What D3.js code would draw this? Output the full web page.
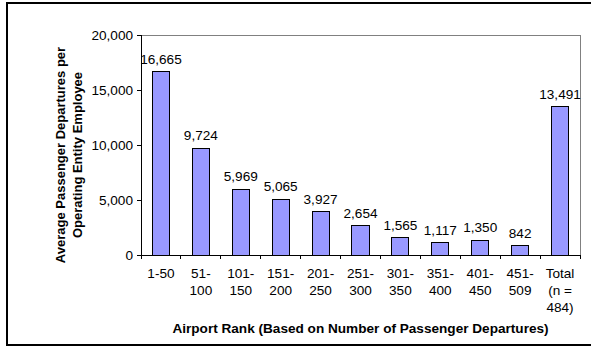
<!DOCTYPE html>
<html>
<head>
<meta charset="utf-8">
<script src="https://cdn.jsdelivr.net/npm/d3@7"></script>
<style>
  html, body { margin: 0; padding: 0; background: #fff; }
  svg { display: block; font-family: "Liberation Sans", Arial, sans-serif; }
</style>
</head>
<body>
<svg id="chart" width="591" height="349"></svg>
<script>
// Airport rank groups (multi-line labels) and average departures per employee
const categories = [
  ["1-50"], ["51-", "100"], ["101-", "150"], ["151-", "200"], ["201-", "250"],
  ["251-", "300"], ["301-", "350"], ["351-", "400"], ["401-", "450"],
  ["451-", "509"], ["Total", "(n =", "484)"]
];
const values = [16665, 9724, 5969, 5065, 3927, 2654, 1565, 1117, 1350, 842, 13491];
const yTicks = [0, 5000, 10000, 15000, 20000];
const yTitle = ["Average Passenger Departures per", "Operating Entity Employee"];
const xTitle = "Airport Rank (Based on Number of Passenger Departures)";

const FS = 13.6;
const svg = d3.select("#chart");
const plot = { left: 141, right: 580, top: 35, bottom: 255 };

// Outer frame
svg.append("rect")
  .attr("x", 7).attr("y", 3).attr("width", 620).attr("height", 342)
  .attr("fill", "#fff").attr("stroke", "#000").attr("stroke-width", 2);

const keys = categories.map((c, i) => i);
const x = d3.scaleBand().domain(keys).range([plot.left, plot.right]).paddingInner(0).paddingOuter(0);
const y = d3.scaleLinear().domain([0, 20000]).range([plot.bottom, plot.top]);

// Plot area border (top and right)
svg.append("path")
  .attr("d", `M${plot.left},${plot.top}H${plot.right}V${plot.bottom}`)
  .attr("fill", "none").attr("stroke", "#808080").attr("stroke-width", 1)
  .attr("shape-rendering", "crispEdges");

// Bars
const barW = x.bandwidth() * 0.43;
svg.append("g").selectAll("rect").data(values).join("rect")
  .attr("x", (d, i) => x(i) + (x.bandwidth() - barW) / 2)
  .attr("y", d => y(d))
  .attr("width", barW)
  .attr("height", d => y(0) - y(d))
  .attr("fill", "#9999ff").attr("stroke", "#000").attr("stroke-width", 1)
  .attr("shape-rendering", "crispEdges");

// Value labels
const fmt = d3.format(",");
svg.append("g").selectAll("text").data(values).join("text")
  .attr("x", (d, i) => x(i) + x.bandwidth() / 2)
  .attr("y", d => y(d) - 8)
  .attr("text-anchor", "middle")
  .attr("font-size", FS).attr("fill", "#000")
  .text(d => fmt(d));

// Y axis
const yAxis = d3.axisLeft(y).tickValues(yTicks).tickFormat(fmt).tickSize(4).tickPadding(4);
const yg = svg.append("g").attr("transform", `translate(${plot.left},0)`).call(yAxis);
yg.select(".domain").attr("stroke", "#000").attr("shape-rendering", "crispEdges");
yg.selectAll(".tick line").attr("stroke", "#000").attr("shape-rendering", "crispEdges");
yg.selectAll(".tick text").attr("font-size", FS).attr("font-family", "Liberation Sans, Arial, sans-serif").attr("fill", "#000");

// X axis line with tick marks at category boundaries
svg.append("line")
  .attr("x1", plot.left).attr("x2", plot.right)
  .attr("y1", plot.bottom).attr("y2", plot.bottom)
  .attr("stroke", "#000").attr("shape-rendering", "crispEdges");
const bounds = keys.map(k => x(k)).concat([plot.right]);
svg.append("g").selectAll("line").data(bounds).join("line")
  .attr("x1", d => d).attr("x2", d => d)
  .attr("y1", plot.bottom).attr("y2", plot.bottom + 4)
  .attr("stroke", "#000").attr("shape-rendering", "crispEdges");

// X category labels
const xl = svg.append("g").selectAll("text").data(categories).join("text")
  .attr("text-anchor", "middle").attr("font-size", FS).attr("fill", "#000");
xl.each(function(lines, i) {
  d3.select(this).selectAll("tspan").data(lines).join("tspan")
    .attr("x", x(i) + x.bandwidth() / 2)
    .attr("y", (d, j) => 278 + j * 17)
    .text(d => d);
});

// Axis titles
svg.append("text")
  .attr("x", (plot.left + plot.right) / 2).attr("y", 333)
  .attr("text-anchor", "middle").attr("font-size", FS).attr("font-weight", "bold")
  .text(xTitle);

const yt = svg.append("text")
  .attr("transform", "translate(0,155) rotate(-90)")
  .attr("text-anchor", "middle").attr("font-size", 13).attr("font-weight", "bold");
yt.selectAll("tspan").data(yTitle).join("tspan")
  .attr("x", 0).attr("y", (d, j) => 65 + j * 17)
  .text(d => d);
</script>
</body>
</html>
